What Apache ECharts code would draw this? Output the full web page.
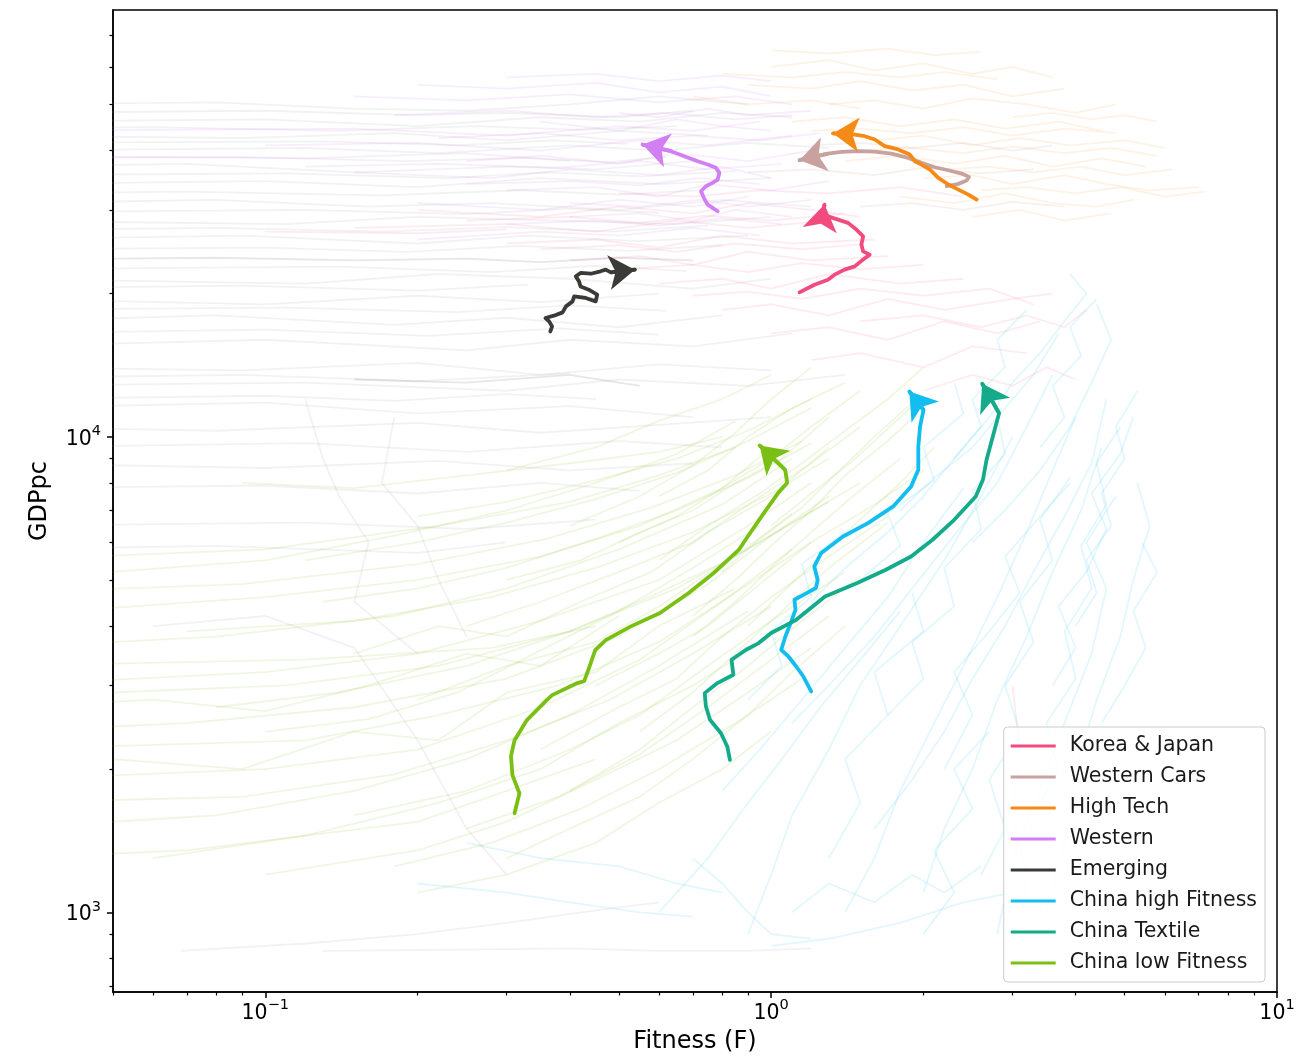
<!DOCTYPE html>
<html>
<head>
<meta charset="utf-8">
<title>Fitness vs GDPpc trajectories</title>
<script src="https://cdn.jsdelivr.net/npm/echarts@6.0.0/dist/echarts.min.js"></script>
<style>
  html, body { margin: 0; padding: 0; background: #ffffff; }
  #chart { width: 1307px; height: 1057px; }
</style>
</head>
<body>
<div id="chart"></div>
<script>
// ---- axis ticks -------------------------------------------------------
const xTickValues = [0.1, 1, 10];
const xTickExponents = ['\u22121', '0', '1'];
const xMinorValues = [0.05, 0.06, 0.07, 0.08, 0.09, 0.2, 0.3, 0.4, 0.5, 0.6, 0.7, 0.8, 0.9, 2, 3, 4, 5, 6, 7, 8, 9];
const yTickValues = [1000, 10000];
const yTickExponents = ['3', '4'];
const yMinorValues = [700, 800, 900, 2000, 3000, 4000, 5000, 6000, 7000, 8000, 9000, 20000, 30000, 40000, 50000, 60000, 70000];

// ---- highlighted trajectories: [Fitness, GDPpc] -------------------------
const koreaJapan = [[1.138,20130],[1.218,20890],[1.295,21400],[1.335,21930],[1.397,22470],[1.463,22830],[1.520,23590],[1.566,24160],[1.520,24550],[1.508,25370],[1.520,26410],[1.474,27280],[1.419,28180],[1.356,28630],[1.295,29090],[1.266,29570],[1.275,30790]];
const westernCars = [[2.223,33650],[2.345,34040],[2.435,34590],[2.461,35210],[2.380,35780],[2.240,36360],[2.107,36890],[1.983,37690],[1.866,38610],[1.729,39420],[1.603,39810],[1.486,39870],[1.376,39760],[1.295,39420],[1.138,38170]];
const highTech = [[2.549,31550],[2.454,32320],[2.345,33110],[2.240,33930],[2.140,35040],[2.060,36490],[1.983,37380],[1.923,37990],[1.880,39240],[1.783,40210],[1.677,40860],[1.603,42200],[1.531,42880],[1.452,43240],[1.325,43450]];
const western = [[0.784,29810],[0.766,30300],[0.749,30790],[0.736,31810],[0.727,32850],[0.743,33650],[0.766,34210],[0.784,34760],[0.790,35910],[0.778,36790],[0.749,37380],[0.716,37990],[0.673,38920],[0.634,39870],[0.557,41180]];
const emerging = [[0.366,16660],[0.369,17070],[0.364,17490],[0.358,17780],[0.372,17980],[0.387,18270],[0.393,18810],[0.405,19270],[0.408,19740],[0.430,19590],[0.450,19270],[0.453,19900],[0.436,20390],[0.420,20720],[0.417,21230],[0.411,21750],[0.420,22110],[0.440,22030],[0.460,22290],[0.471,22470],[0.482,22180],[0.538,22470]];
const chinaHighFitness = [[1.200,2914],[1.158,3133],[1.121,3289],[1.082,3452],[1.047,3566],[1.067,3804],[1.099,4123],[1.117,4327],[1.112,4543],[1.158,4654],[1.226,4810],[1.236,5000],[1.217,5338],[1.256,5699],[1.387,6173],[1.554,6585],[1.743,7140],[1.891,7863],[1.954,8523],[1.954,9546],[1.970,10517],[2.001,11396],[1.876,12455]];
const chinaTextile = [[0.829,2093],[0.819,2233],[0.796,2381],[0.757,2541],[0.743,2712],[0.739,2891],[0.783,3035],[0.842,3159],[0.835,3398],[0.892,3566],[0.945,3684],[1.000,3867],[1.121,4123],[1.278,4615],[1.480,4926],[1.686,5253],[1.891,5603],[2.085,6075],[2.301,6692],[2.538,7491],[2.622,8122],[2.666,8951],[2.754,10181],[2.822,11216],[2.614,12931]];
const chinaLowFitness = [[0.311,1616],[0.318,1780],[0.308,1943],[0.306,2130],[0.311,2302],[0.329,2537],[0.360,2795],[0.369,2863],[0.414,3035],[0.427,3064],[0.435,3232],[0.449,3561],[0.471,3738],[0.528,3994],[0.603,4262],[0.687,4696],[0.770,5172],[0.863,5782],[0.899,6173],[0.968,6918],[1.033,7623],[1.076,8003],[1.066,8523],[0.949,9592]];

// ---- faint background trajectories of the other countries -------------
const bgGrey = [
  [[0.03,50000],[0.08,50500],[0.15,49000],[0.25,48500],[0.4,50000],[0.6,52000],[0.9,50000]],
  [[0.03,48000],[0.1,48500],[0.2,47500],[0.3,48000],[0.5,47000],[0.7,48500]],
  [[0.03,46000],[0.1,46500],[0.2,45000],[0.35,47000],[0.55,46000],[0.8,48000],[1.1,47000]],
  [[0.03,44500],[0.06,44800],[0.14,44000],[0.26,45000],[0.42,44200],[0.65,45000]],
  [[0.03,43000],[0.09,42500],[0.18,43500],[0.3,42000],[0.5,44000],[0.75,43000]],
  [[0.03,41500],[0.13,41800],[0.24,41000],[0.37,42000],[0.52,41300]],
  [[0.03,40000],[0.12,40500],[0.22,39500],[0.4,41000],[0.6,40000],[0.9,41500],[1.3,40500]],
  [[0.03,38500],[0.09,38800],[0.19,38000],[0.33,38600],[0.48,37800],[0.62,38800]],
  [[0.03,37000],[0.07,37500],[0.15,36000],[0.3,37000],[0.45,36500],[0.7,38000]],
  [[0.03,35500],[0.11,35800],[0.23,35000],[0.36,36000],[0.55,35300],[0.85,36200]],
  [[0.03,34000],[0.1,34500],[0.2,33500],[0.35,35000],[0.6,34000],[1.0,35000]],
  [[0.03,32500],[0.07,32800],[0.17,32200],[0.32,33000],[0.5,32300],[0.72,33000]],
  [[0.03,31000],[0.08,31500],[0.16,30500],[0.28,31000],[0.5,30000],[0.8,31500],[1.2,30500]],
  [[0.03,29700],[0.12,30000],[0.25,29400],[0.4,30200],[0.6,29600]],
  [[0.03,28500],[0.11,28000],[0.2,29000],[0.38,28500],[0.65,28000],[1.0,29000]],
  [[0.03,27200],[0.08,27500],[0.17,27000],[0.3,27600],[0.48,27000],[0.75,27800]],
  [[0.03,26000],[0.09,26500],[0.2,25500],[0.33,26500],[0.55,25800],[0.9,26500]],
  [[0.03,24800],[0.1,25000],[0.19,24500],[0.32,25200],[0.52,24600],[0.8,25300]],
  [[0.03,22500],[0.14,22800],[0.28,22200],[0.45,22900],[0.68,22300]],
  [[0.03,21500],[0.12,21000],[0.22,22000],[0.4,21500],[0.7,20500],[1.0,21500]],
  [[0.03,20500],[0.09,20800],[0.2,20300],[0.33,20900]],
  [[0.03,19500],[0.1,19000],[0.2,19800],[0.35,19200],[0.6,20000]],
  [[0.03,18500],[0.11,18700],[0.24,18300],[0.4,18900],[0.62,18400]],
  [[0.03,17500],[0.08,18000],[0.18,17200],[0.3,17800],[0.5,17000],[0.8,18000]],
  [[0.03,16500],[0.1,16800],[0.21,16300],[0.38,16900],[0.6,16400]],
  [[0.03,15500],[0.1,16000],[0.25,15200],[0.4,16000],[0.7,15500],[1.1,16500]],
  [[0.03,14000],[0.09,13800],[0.2,14300],[0.35,13500],[0.6,14200],[1.0,13800]],
  [[0.03,13300],[0.09,13500],[0.2,13100],[0.4,13600]],
  [[0.03,12800],[0.12,13000],[0.3,12500],[0.5,13200],[0.9,12800],[1.4,13500]],
  [[0.03,12000],[0.1,12200],[0.18,11900],[0.3,12300],[0.45,12000]],
  [[0.03,11500],[0.1,11800],[0.2,11200],[0.4,11600],[0.7,11000]],
  [[0.03,10500],[0.08,10300],[0.2,10700],[0.35,10200],[0.6,10600],[1.0,11000]],
  [[0.03,9500],[0.12,9700],[0.25,9300],[0.5,9800],[0.8,9500]],
  [[0.03,8800],[0.1,8600],[0.22,8900],[0.4,8500],[0.7,8800]],
  [[0.03,7800],[0.1,7900],[0.2,7600],[0.35,8000],[0.55,7700]],
  [[0.03,6500],[0.12,6600],[0.25,6400],[0.45,6700]],
  [[0.03,5800],[0.08,5900],[0.2,5700],[0.3,6000]],
  [[0.12,12000],[0.13,9000],[0.14,7500],[0.16,6000],[0.15,4500],[0.2,3500]],
  [[0.18,11000],[0.17,8000],[0.2,6500],[0.22,5000],[0.25,3800]],
  [[0.06,4000],[0.1,4200],[0.15,3600],[0.2,2300],[0.25,1500],[0.3,1200]],
  [[0.068,830],[0.12,860],[0.2,900],[0.3,950],[0.45,1010],[0.6,1050]],
  [[0.13,830],[0.25,835],[0.4,840],[0.6,830],[0.9,830],[1.2,840]]
];
const bgEmerging = [
  [[0.03,23600],[0.08,23800],[0.15,23500],[0.25,23700],[0.35,23300],[0.5,23800],[0.7,23500]],
  [[0.15,13200],[0.25,13000],[0.4,13500],[0.55,12800]]
];
const bgWestern = [
  [[0.3,57000],[0.45,58000],[0.6,56000],[0.8,57500],[1.0,56000]],
  [[0.2,55000],[0.3,54000],[0.45,55500],[0.6,53000],[0.8,54500],[1.0,52000]],
  [[0.15,52000],[0.25,51000],[0.4,52500],[0.6,50500],[0.85,52000],[1.1,50000]],
  [[0.5,48000],[0.6,47000],[0.75,49000],[0.9,47500],[1.2,48500]],
  [[0.18,47500],[0.3,48500],[0.45,47000],[0.62,48000],[0.85,46500],[1.1,47500]],
  [[0.35,46000],[0.5,44000],[0.65,46500],[0.8,45000],[1.0,44000]],
  [[0.03,44000],[0.15,44500],[0.3,43000],[0.5,45000],[0.7,44000],[0.95,46000]],
  [[0.22,42500],[0.35,43500],[0.5,42000],[0.7,43000],[0.95,42000],[1.25,43500]],
  [[0.1,41000],[0.2,41500],[0.35,40000],[0.55,42000],[0.75,41000],[1.1,43000]],
  [[0.03,39000],[0.12,38500],[0.25,39500],[0.4,38000]],
  [[0.25,38000],[0.35,39000],[0.5,37500],[0.65,39500],[0.9,38000],[1.2,40000]],
  [[0.12,37000],[0.22,37500],[0.38,36800],[0.55,38000],[0.75,36500],[1.05,37500]],
  [[0.15,36000],[0.28,35000],[0.4,36500],[0.6,35500],[0.8,37000],[1.0,35000]],
  [[0.25,34000],[0.4,34500],[0.55,33800],[0.72,35000],[0.95,34000]],
  [[0.3,33000],[0.45,33500],[0.6,32000],[0.75,34000],[1.0,33000],[1.3,34500]],
  [[0.2,31000],[0.35,30000],[0.5,31500],[0.7,30500],[0.9,32000]],
  [[0.4,31000],[0.55,30500],[0.72,31500],[0.9,30500],[1.2,31500]],
  [[0.4,29000],[0.55,29500],[0.7,28500],[0.85,30000],[1.1,29000]],
  [[0.3,28000],[0.45,28500],[0.6,27800],[0.8,28800],[1.05,28000]],
  [[0.2,26000],[0.35,27000],[0.5,26500],[0.7,27500],[0.95,26500]]
];
const bgKoreaJapan = [
  [[0.5,32500],[0.7,32000],[0.95,33000],[1.3,32500],[1.8,33500],[2.4,32000]],
  [[0.2,30000],[0.35,29000],[0.5,30500],[0.7,29500],[0.9,31000],[1.2,30000],[1.5,29000]],
  [[0.25,28500],[0.4,29000],[0.55,28200],[0.75,29200],[1.0,28500],[1.4,29500]],
  [[0.15,27500],[0.3,28000],[0.45,27000],[0.65,28500],[0.9,27500],[1.3,28500]],
  [[0.1,27000],[0.2,26800],[0.3,27300]],
  [[0.3,25500],[0.45,26000],[0.6,25000],[0.8,26500],[1.1,25500],[1.6,26000]],
  [[0.35,24800],[0.5,25300],[0.65,24500],[0.85,25500],[1.15,24800],[1.5,25400]],
  [[0.4,23500],[0.55,24000],[0.7,23000],[0.9,24500],[1.2,23500],[1.7,24000]],
  [[0.5,22500],[0.7,23000],[0.9,22200],[1.15,23200],[1.5,22500],[2.0,23000]],
  [[0.6,21000],[0.8,21500],[1.0,20500],[1.3,22000],[1.8,21000],[2.4,21500]],
  [[0.7,19800],[0.9,20200],[1.15,19500],[1.5,20500],[2.0,19800],[2.7,20500],[3.3,19000]],
  [[0.8,18500],[1.0,19000],[1.3,18000],[1.7,19500],[2.2,18500],[3.0,19500],[3.6,20000]],
  [[1.5,17500],[2.0,18000],[2.6,17000],[3.2,18000],[3.8,17000],[4.2,18500]],
  [[1.0,16500],[1.3,17000],[1.7,16000],[2.2,17500],[2.8,16500],[3.4,17500]],
  [[1.2,14500],[1.5,15000],[2.0,14000],[2.5,15500],[3.2,15000]],
  [[2.0,12500],[2.5,13500],[3.0,12800],[3.5,14000],[4.0,13200]],
  [[3.0,3000],[3.1,2200],[3.0,1600],[3.2,1200],[3.1,900]]
];
const bgHighTech = [
  [[1.0,65000],[1.3,64000],[1.7,65500],[2.1,63500],[2.6,64500]],
  [[1.0,60000],[1.3,62000],[1.6,59000],[2.0,61000],[2.5,58000],[3.0,60000],[3.6,57000]],
  [[0.8,58000],[1.1,57000],[1.4,58500],[1.8,57000],[2.2,58500],[2.8,56500]],
  [[0.9,55000],[1.2,54000],[1.5,56000],[1.9,53500],[2.4,55000],[3.0,52000],[3.8,54000]],
  [[0.7,52000],[0.9,50000],[1.2,51000],[1.5,49000]],
  [[1.3,50000],[1.6,51000],[2.0,49000],[2.5,51500],[3.2,50000],[4.0,48000],[4.8,50000]],
  [[3.0,47000],[3.6,48000],[4.3,46500],[5.0,47500],[5.8,46000]],
  [[1.1,46000],[1.4,47000],[1.8,45000],[2.3,46500],[2.9,44500],[3.7,46000],[4.5,44000]],
  [[1.2,44000],[1.5,44500],[1.9,43500],[2.4,44800],[3.0,43000],[3.8,44500],[4.8,43500]],
  [[1.6,42000],[2.0,43000],[2.5,41000],[3.1,42500],[3.9,41000],[5.0,42000],[6.0,40500]],
  [[1.5,40000],[1.9,40500],[2.4,39500],[3.0,40800],[3.8,39500],[4.7,40500],[5.8,39000]],
  [[1.4,38000],[1.8,39000],[2.3,37500],[2.9,39000],[3.6,37000],[4.5,38500],[5.5,37000]],
  [[2.2,36500],[2.7,37000],[3.3,36000],[4.1,37000],[5.0,35500],[6.2,36500]],
  [[2.0,35000],[2.5,35500],[3.0,34000],[3.8,35500],[4.6,34000],[5.6,33000],[7.0,33500]],
  [[2.6,33000],[3.2,33500],[4.0,32500],[4.9,33500],[6.0,32000],[7.2,32800]],
  [[1.8,32000],[2.3,31000],[2.9,32500],[3.6,31000],[4.4,30500],[5.2,31500]],
  [[2.5,29000],[3.1,30000],[3.8,28500],[4.7,29500]]
];
const bgWesternCars = [
  [[1.2,41000],[1.5,41500],[1.9,40500],[2.4,41500],[3.0,40000],[3.6,41000]],
  [[0.9,36000],[1.2,36500],[1.6,35500],[2.0,36800],[2.6,35800],[3.3,36500]],
  [[1.5,30500],[1.9,31000],[2.4,30000],[3.0,31200],[3.8,30500]]
];
const bgChinaLow = [
  [[0.03,1300],[0.07,1350],[0.12,1450],[0.2,1550],[0.3,1800],[0.45,2100]],
  [[0.03,1500],[0.08,1600],[0.15,1800],[0.25,2100],[0.4,2600],[0.6,3300],[0.9,4300]],
  [[0.03,1700],[0.09,1750],[0.18,1950],[0.3,2300],[0.48,2800],[0.7,3500],[1.0,4400]],
  [[0.03,1900],[0.1,2000],[0.2,2200],[0.35,2700],[0.55,3400],[0.8,4500],[1.1,5800]],
  [[0.05,2100],[0.09,2000],[0.15,2400],[0.22,2300],[0.3,2900],[0.45,3200],[0.6,4000],[0.85,4800]],
  [[0.03,2200],[0.12,2300],[0.22,2600],[0.38,3000],[0.6,3700],[0.85,4700],[1.2,6000]],
  [[0.03,2400],[0.07,2500],[0.15,2700],[0.3,3100],[0.5,3800],[0.75,4900],[1.0,6200],[1.3,7500]],
  [[0.1,2400],[0.16,2550],[0.24,2900],[0.34,3500],[0.5,4300],[0.7,5300],[0.95,6500]],
  [[0.03,2700],[0.06,2800],[0.1,2650],[0.16,3000],[0.25,3500],[0.35,3300],[0.5,4200]],
  [[0.08,2700],[0.14,2900],[0.25,3300],[0.4,3900],[0.6,4700],[0.85,5600],[1.1,6900]],
  [[0.05,2900],[0.11,3000],[0.22,3300],[0.4,3900],[0.65,4800],[0.95,6000],[1.3,7300]],
  [[0.03,3000],[0.1,3200],[0.2,3500],[0.35,4100],[0.6,5000],[0.9,6500],[1.2,8000]],
  [[0.03,3300],[0.12,3400],[0.28,3600],[0.45,4000]],
  [[0.15,3500],[0.22,4000],[0.3,3800],[0.42,4500],[0.58,5200],[0.75,6300],[1.0,7500],[1.3,9500]],
  [[0.03,3600],[0.08,3800],[0.18,4200],[0.3,4800],[0.5,5800],[0.8,7200],[1.1,9000]],
  [[0.07,3900],[0.15,4100],[0.28,4600],[0.45,5300],[0.7,6300],[1.0,7600],[1.3,9000]],
  [[0.04,4300],[0.1,4600],[0.2,5000],[0.35,5600],[0.55,6500],[0.8,7800],[1.0,9500]],
  [[0.13,4500],[0.2,4800],[0.3,5300],[0.45,6100],[0.65,7000],[0.9,8200],[1.2,9700]],
  [[0.03,4700],[0.09,4900],[0.2,5400],[0.36,6100],[0.58,7100],[0.85,8300],[1.15,9800]],
  [[0.05,5200],[0.1,5500],[0.18,6200],[0.3,7000],[0.45,8000],[0.65,9200],[0.85,10800]],
  [[0.03,5500],[0.1,5800],[0.22,6500],[0.4,7300],[0.6,8300],[0.85,9500]],
  [[0.12,5500],[0.2,6000],[0.3,6600],[0.45,7400],[0.65,8400],[0.9,9800],[1.2,11500]],
  [[0.2,6800],[0.3,7300],[0.45,8100],[0.65,9000],[0.9,10300],[1.2,12000]],
  [[0.09,8000],[0.15,7800],[0.25,8300],[0.4,8800],[0.6,9300],[0.8,10000]],
  [[0.3,8500],[0.45,9500],[0.6,10800],[0.8,12000],[1.0,13500]],
  [[0.06,1300],[0.12,1450],[0.22,1700],[0.35,2000],[0.5,2500],[0.7,3000],[1.0,3800]],
  [[0.1,1200],[0.2,1350],[0.3,1550],[0.45,1900],[0.65,2300],[0.9,2900],[1.2,3600]],
  [[0.2,1100],[0.3,1200],[0.45,1400],[0.6,1700],[0.8,2000],[1.0,2400]],
  [[0.18,1250],[0.28,1400],[0.42,1650],[0.6,2000],[0.85,2500],[1.15,3100]],
  [[0.3,1300],[0.4,1500],[0.55,1750],[0.7,2100],[0.9,2600],[1.1,3200],[1.4,4000]],
  [[0.25,1500],[0.38,1750],[0.55,2150],[0.75,2700],[1.0,3400],[1.3,4200]],
  [[0.15,1600],[0.25,1800],[0.4,2200],[0.55,2600],[0.75,3300],[1.0,4100],[1.4,5200]],
  [[0.4,1800],[0.55,2200],[0.7,2700],[0.9,3300],[1.15,4100],[1.5,5100]],
  [[0.35,2200],[0.5,2700],[0.65,3100],[0.8,3800],[1.0,4600],[1.3,5600],[1.7,6800]],
  [[0.55,2400],[0.7,2900],[0.85,3500],[1.05,4300],[1.3,5300],[1.7,6600]],
  [[0.2,2800],[0.3,3300],[0.45,3700],[0.6,4400],[0.8,5400],[1.1,6600],[1.5,8000]],
  [[0.45,3000],[0.6,3500],[0.75,4000],[0.95,4900],[1.2,6000],[1.6,7200],[2.0,8500]],
  [[0.7,3800],[0.85,4500],[1.0,5300],[1.2,6300],[1.45,7500],[1.8,9000]],
  [[0.9,4000],[1.05,4700],[1.25,5600],[1.5,6700],[1.8,8000],[2.1,9500]],
  [[0.25,4000],[0.35,4500],[0.5,5200],[0.7,6000],[0.9,7200],[1.2,8800],[1.5,10500]],
  [[0.7,4200],[0.85,5000],[1.0,5900],[1.2,7000],[1.4,8300],[1.7,9800],[2.0,11500]],
  [[0.3,5000],[0.42,5500],[0.55,6300],[0.7,7000],[0.85,8000],[1.05,9000],[1.3,11000]],
  [[0.8,5200],[0.95,6100],[1.15,7100],[1.35,8400],[1.6,10000],[1.9,11800]],
  [[0.6,5500],[0.75,6500],[0.95,7600],[1.15,8800],[1.4,10300],[1.7,12000],[2.0,14000]],
  [[0.5,6000],[0.65,6800],[0.8,7800],[1.0,9000],[1.2,10500],[1.5,12500]],
  [[1.0,6500],[1.2,7600],[1.45,8900],[1.7,10400],[2.0,12200]],
  [[0.4,6500],[0.55,7500],[0.7,8700],[0.85,10200],[1.0,12000],[1.2,14000]],
  [[0.6,7500],[0.75,8500],[0.9,10000],[1.1,11500],[1.4,13000]]
];
const bgChinaHigh = [
  [[0.9,900],[1.0,1200],[1.1,1600],[1.3,2200],[1.5,3000],[1.8,4000],[2.2,5500],[2.6,7500],[3.0,10000]],
  [[1.4,1000],[1.6,1300],[1.8,1800],[2.1,2500],[2.4,3300],[2.8,4600],[3.2,6300],[3.6,8500],[4.0,11000]],
  [[2.0,1100],[2.2,1500],[2.5,2000],[2.8,2800],[3.2,3800],[3.6,5200],[4.1,7000],[4.5,9500]],
  [[2.8,900],[3.0,1300],[3.4,1800],[3.8,2500],[4.3,3500],[4.6,4800],[4.2,6000],[4.8,7500]],
  [[1.1,2500],[1.3,3000],[1.6,3800],[1.9,4800],[2.3,6200],[2.8,8000],[3.2,10500],[3.6,13500]],
  [[0.8,1800],[0.95,2200],[1.15,2800],[1.4,3600],[1.7,4600],[2.0,6000],[2.4,7800]],
  [[3.5,1000],[3.8,1400],[4.0,2000],[4.4,2800],[4.9,3800],[5.2,5000],[5.6,6500],[5.3,8000]],
  [[1.6,1500],[1.9,1900],[2.2,2400],[2.5,3100],[2.9,4000],[3.3,5200],[3.8,6800],[4.3,8800],[4.6,12000]],
  [[0.6,1000],[0.75,1300],[0.9,1700],[1.05,2100],[1.25,2700],[1.5,3400],[1.8,4300]],
  [[2.5,6000],[2.9,7000],[3.4,8500],[3.9,10500],[4.3,13000],[4.7,16000],[4.4,19000]],
  [[1.8,7000],[2.1,8200],[2.5,9500],[2.9,11500],[3.3,13500],[3.7,16500]],
  [[3.0,13000],[3.4,15000],[3.8,17500],[4.2,20000],[3.9,22000]],
  [[4.5,2500],[5.0,3000],[5.5,3600],[5.2,4300],[5.8,5200],[5.4,6000]],
  [[1.2,4500],[1.4,5300],[1.7,6300],[2.0,7500],[2.3,9000],[2.7,11000],[3.0,13000]],
  [[0.7,1300],[0.8,1150],[0.9,1000],[1.0,900],[1.2,880]],
  [[1.0,850],[1.3,880],[1.8,950],[2.4,1050],[3.0,1100]],
  [[2.2,2000],[2.5,2600],[2.3,3200],[2.7,3900],[3.1,4700],[2.9,5600],[3.4,6800],[3.9,8000]],
  [[3.6,3000],[4.0,3600],[3.7,4400],[4.2,5200],[4.6,6400],[4.3,7600],[4.9,9200],[5.2,11000]],
  [[0.2,1150],[0.3,1100],[0.4,1050],[0.55,1000],[0.7,980]],
  [[0.25,1400],[0.35,1300],[0.5,1250],[0.65,1150],[0.8,1100]],
  [[2.6,1200],[2.9,1500],[2.7,1900],[3.1,2400],[2.9,3000],[3.3,3700],[3.1,4500],[3.6,5500],[3.4,6700],[3.9,8200]],
  [[3.3,1600],[3.7,2000],[3.5,2500],[4.0,3100],[3.8,3900],[4.3,4800],[4.1,5900],[4.6,7200],[4.4,8800],[4.9,10500]],
  [[1.7,2600],[2.0,3100],[1.9,3700],[2.3,4400],[2.2,5300],[2.6,6400],[2.5,7700],[2.9,9200],[2.8,11000]],
  [[1.3,1300],[1.5,1700],[1.4,2100],[1.7,2600],[1.6,3200],[2.0,3900],[1.9,4700]],
  [[4.0,4000],[4.4,4700],[4.2,5500],[4.7,6500],[4.5,7600],[5.0,9000],[4.8,10500],[5.3,12500]],
  [[2.3,9000],[2.6,10500],[2.5,12000],[2.9,14000],[2.8,16000],[3.2,18500]],
  [[1.5,5000],[1.8,5900],[1.7,6900],[2.1,8100],[2.0,9500],[2.4,11200],[2.3,13000]],
  [[3.4,9500],[3.8,11000],[3.6,12800],[4.1,14800],[3.9,17000],[4.4,19500]],
  [[0.9,2800],[1.05,3300],[1.0,3900],[1.2,4600],[1.15,5400],[1.4,6300]],
  [[2.0,900],[2.3,1100],[2.1,1350],[2.5,1650],[2.3,2000],[2.7,2400]],
  [[1.1,1000],[1.3,1150],[1.6,1050],[1.9,1200],[2.2,1100],[2.6,1250]]
];

// ---- styling ------------------------------------------------------------
const FONT = 'DejaVu Sans';
const trajectories = [
  { name: 'Korea & Japan',      color: '#f24b7d', data: koreaJapan },
  { name: 'Western Cars',       color: '#c8a29e', data: westernCars },
  { name: 'High Tech',          color: '#f58a16', data: highTech },
  { name: 'Western',            color: '#d17ff2', data: western },
  { name: 'Emerging',           color: '#3a3a36', data: emerging },
  { name: 'China high Fitness', color: '#12bdf0', data: chinaHighFitness },
  { name: 'China Textile',      color: '#13ab8a', data: chinaTextile },
  { name: 'China low Fitness',  color: '#7abf14', data: chinaLowFitness }
];
const backgrounds = [
  { color: '#9a9a9a', opacity: 0.13, lines: bgGrey },
  { color: '#3a3a36', opacity: 0.12, lines: bgEmerging },
  { color: '#d17ff2', opacity: 0.14, lines: bgWestern },
  { color: '#f24b7d', opacity: 0.11, lines: bgKoreaJapan },
  { color: '#f58a16', opacity: 0.11, lines: bgHighTech },
  { color: '#c8a29e', opacity: 0.16, lines: bgWesternCars },
  { color: '#7abf14', opacity: 0.12, lines: bgChinaLow },
  { color: '#12bdf0', opacity: 0.12, lines: bgChinaHigh }
];

const series = [];
backgrounds.forEach(function (b) {
  series.push({
    type: 'lines', coordinateSystem: 'cartesian2d', polyline: true,
    silent: true, clip: true, z: 1,
    lineStyle: { color: b.color, width: 1.8, opacity: b.opacity },
    data: b.lines.map(function (c) { return { coords: c }; })
  });
});
trajectories.forEach(function (t) {
  series.push({
    type: 'line', name: t.name, data: t.data,
    symbol: 'none', showSymbol: false, clip: true, z: 5,
    itemStyle: { color: t.color },
    lineStyle: { color: t.color, width: 3.8, join: 'round', cap: 'round' }
  });
  const n = t.data.length;
  series.push({
    type: 'lines', coordinateSystem: 'cartesian2d', silent: true, z: 6,
    symbol: ['none', 'arrow'], symbolSize: [18, 26], symbolOffset: [0, '50%'],
    lineStyle: { color: t.color, width: 3.8, opacity: 1 },
    data: [{ coords: [t.data[n - 2], t.data[n - 1]] }]
  });
});

// tick labels drawn as 10 with a raised exponent
function tickText(values, exponents) {
  return function (v) {
    for (let i = 0; i < values.length; i++) {
      if (Math.abs(Math.log10(v) - Math.log10(values[i])) < 1e-6) {
        return '{b|10}{s|' + exponents[i] + '}';
      }
    }
    return '';
  };
}
const tickRich = {
  b: { fontFamily: FONT, fontSize: 20.5, color: '#000', lineHeight: 26, verticalAlign: 'bottom' },
  s: { fontFamily: FONT, fontSize: 14.5, color: '#000', lineHeight: 14, verticalAlign: 'top' }
};

const chart = echarts.init(document.getElementById('chart'), null, { renderer: 'canvas' });
chart.setOption({
  animation: false,
  backgroundColor: '#ffffff',
  textStyle: { fontFamily: FONT },
  grid: {
    left: 113, right: 30, top: 10, bottom: 65,
    show: true, borderColor: '#000', borderWidth: 1.5, backgroundColor: 'transparent',
    containLabel: false, outerBoundsMode: 'none'
  },
  legend: {
    orient: 'vertical', right: 42, bottom: 75,
    data: trajectories.map(function (t) { return t.name; }),
    icon: 'rect', itemWidth: 45, itemHeight: 3, itemGap: 9,
    padding: [8, 8, 8, 7],
    backgroundColor: 'rgba(255,255,255,0.85)',
    borderColor: '#cccccc', borderWidth: 1, borderRadius: 4,
    selectedMode: false,
    textStyle: { fontFamily: FONT, fontSize: 20.5, color: '#1a1a1a', lineHeight: 22, padding: [0, 0, 0, 9] }
  },
  xAxis: [
    {
      type: 'log', logBase: 10, min: 0.05, max: 10, position: 'bottom',
      name: 'Fitness (F)', nameLocation: 'middle', nameGap: 38,
      nameTextStyle: { color: '#000', fontFamily: FONT, fontSize: 24 },
      axisLine: { show: true, onZero: false, lineStyle: { color: '#000', width: 1.5 } },
      axisTick: { show: true, length: 6, lineStyle: { color: '#000', width: 1.5 }, customValues: xTickValues },
      axisLabel: { margin: 6, customValues: xTickValues, formatter: tickText(xTickValues, xTickExponents), rich: tickRich },
      splitLine: { show: false }, minorTick: { show: false }
    },
    {
      type: 'log', logBase: 10, min: 0.05, max: 10, position: 'bottom',
      axisLine: { show: false, onZero: false },
      axisTick: { show: true, length: 3.5, lineStyle: { color: '#000', width: 1.2 }, customValues: xMinorValues },
      axisLabel: { show: false }, splitLine: { show: false }
    }
  ],
  yAxis: [
    {
      type: 'log', logBase: 10, min: 680, max: 79000, position: 'left',
      name: 'GDPpc', nameLocation: 'middle', nameGap: 61, nameRotate: 90,
      nameTextStyle: { color: '#000', fontFamily: FONT, fontSize: 24 },
      axisLine: { show: true, onZero: false, lineStyle: { color: '#000', width: 1.5 } },
      axisTick: { show: true, length: 6, lineStyle: { color: '#000', width: 1.5 }, customValues: yTickValues },
      axisLabel: { margin: 12, customValues: yTickValues, formatter: tickText(yTickValues, yTickExponents), rich: tickRich },
      splitLine: { show: false }, minorTick: { show: false }
    },
    {
      type: 'log', logBase: 10, min: 680, max: 79000, position: 'left',
      axisLine: { show: false, onZero: false },
      axisTick: { show: true, length: 3.5, lineStyle: { color: '#000', width: 1.2 }, customValues: yMinorValues },
      axisLabel: { show: false }, splitLine: { show: false }
    }
  ],
  series: series
});
</script>
</body>
</html>
